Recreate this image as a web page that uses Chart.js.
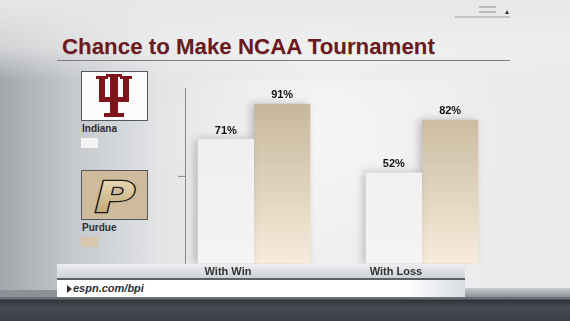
<!DOCTYPE html>
<html>
<head>
<meta charset="utf-8">
<script src="https://cdn.jsdelivr.net/npm/chart.js@4.4.0/dist/chart.umd.min.js"></script>
<style>
  html, body { margin: 0; padding: 0; }
  body { width: 570px; height: 321px; overflow: hidden; position: relative;
         font-family: "Liberation Sans", Arial, sans-serif;
         background: linear-gradient(to right, #a3a7ad 0%, #c3c6ca 12%, #e2e4e6 28%, #eeeff0 55%, #e9eaeb 100%); }
  .abs { position: absolute; }
  #topfade { left: 0; top: 0; width: 570px; height: 80px;
             background: linear-gradient(to bottom, #e6e7e8 0%, rgba(240,240,240,0.6) 60%, rgba(240,240,240,0) 100%); }
  #panel { left: 150px; top: 80px; width: 360px; height: 185px;
           background: radial-gradient(ellipse at 50% 30%, rgba(250,250,250,0.6) 0%, rgba(250,250,250,0) 70%); }
  #title { left: 62px; top: 34px; font-size: 22.3px; font-weight: bold; color: #6b1a20;
           text-shadow: 0 1px 0 rgba(0,0,0,0.15); white-space: nowrap; }
  #rule { left: 57px; top: 60px; width: 453px; height: 1px; background: #7a7c80; }
  .lbl { font-size: 10px; font-weight: bold; color: #2e2e2e; }
  .sw { width: 17px; height: 10px; }
  #strip { left: 57px; top: 264px; width: 408px; height: 14px;
           background: linear-gradient(to bottom, #eceef0, #cfd2d6); }
  #stripline { left: 57px; top: 278px; width: 408px; height: 2px; background: #5d6168; }
  #url { left: 57px; top: 280px; width: 408px; height: 17px;
         background: linear-gradient(to right, #ffffff 0%, #ffffff 85%, #d9dde3 100%); }
  #urltext { left: 73px; top: 282px; font-size: 11px; font-weight: bold; font-style: italic; color: #2b2f3a; }
  #tri { left: 67px; top: 285px; width: 0; height: 0; border-top: 4px solid transparent;
         border-bottom: 4px solid transparent; border-left: 5px solid #2b2f3a; }
  #leftband { left: 0; top: 290px; width: 57px; height: 8px; background: #8d9197; }
  #bottom { left: 0; top: 297px; width: 570px; height: 24px;
            background: linear-gradient(to bottom, #6c7076 0px, #6c7076 2px, #2f333a 3px, #454a51 10px, #3a3e45 24px); }
  #rightband { left: 465px; top: 288px; width: 105px; height: 9px; background: linear-gradient(to bottom, #c8cbcf, #8e9298); }
  canvas { position: absolute; left: 0; top: 0; }
</style>
</head>
<body>
<div id="topfade" class="abs"></div>
<div id="panel" class="abs"></div>
<svg class="abs" style="left:0;top:0" width="570" height="30">
  <line x1="479" y1="7" x2="496" y2="7" stroke="#8a8c90" stroke-width="1"/>
  <line x1="479" y1="12" x2="496" y2="12" stroke="#8a8c90" stroke-width="1"/>
  <line x1="455" y1="17" x2="510" y2="17" stroke="#9a9ca0" stroke-width="1"/>
  <polygon points="505,14 509,14 507,10" fill="#333"/>
</svg>
<div id="title" class="abs">Chance to Make NCAA Tournament</div>
<div id="rule" class="abs"></div>

<svg class="abs" style="left:81px;top:71px" width="67" height="50">
  <rect x="0.5" y="0.5" width="66" height="49" fill="#fbfbfb" stroke="#55585c"/>
  <g fill="#7e151b">
    <rect x="29" y="3" width="8" height="41"/>
    <rect x="25" y="3" width="16" height="3"/>
    <rect x="18" y="6" width="6" height="23"/>
    <rect x="42" y="6" width="6" height="23"/>
    <rect x="15" y="5" width="12" height="3"/>
    <rect x="39" y="5" width="12" height="3"/>
    <rect x="18" y="26" width="30" height="5"/>
    <rect x="23" y="42" width="20" height="4"/>
  </g>
</svg>
<div class="abs lbl" style="left:82px;top:123px">Indiana</div>
<div class="abs sw" style="left:81px;top:138px;background:#f3f3f3;"></div>

<svg class="abs" style="left:81px;top:170px" width="67" height="50">
  <defs>
    <linearGradient id="pg" x1="0" y1="0" x2="0" y2="1">
      <stop offset="0" stop-color="#ede1c0"/>
      <stop offset="1" stop-color="#b99e66"/>
    </linearGradient>
  </defs>
  <rect x="0.5" y="0.5" width="66" height="49" fill="#cdbb9b" stroke="#55585c"/>
  <text x="34" y="42" text-anchor="middle" font-family="DejaVu Sans" font-weight="bold" font-style="italic"
        font-size="42" fill="url(#pg)" stroke="#1c1a16" stroke-width="2.4" paint-order="stroke"
        transform="translate(34,0) scale(1.3,1) translate(-34,0)">P</text>
</svg>
<div class="abs lbl" style="left:82px;top:222px">Purdue</div>
<div class="abs sw" style="left:81px;top:237px;background:#d6c6ab;"></div>

<div id="strip" class="abs"></div>
<div id="stripline" class="abs"></div>
<div id="leftband" class="abs"></div>
<div id="rightband" class="abs"></div>
<div id="url" class="abs"></div>
<div id="tri" class="abs"></div>
<div id="urltext" class="abs">espn.com/bpi</div>
<div id="bottom" class="abs"></div>

<canvas id="chart" width="570" height="321"></canvas>
<script>
var categories = ["With Win", "With Loss"];
var indiana = [71, 52];
var purdue = [91, 82];
var yTicks = [0, 50, 100];

// vertical axis line, soft bar shadows, value labels on top of the bars
var decorPlugin = {
    id: "decor",
    beforeDatasetsDraw: function (chart) {
        var ctx = chart.ctx;
        var area = chart.chartArea;
        var y = chart.scales.y;
        var ax = area.left + 15;
        ctx.save();
        ctx.strokeStyle = "#85888d";
        ctx.lineWidth = 1;
        ctx.beginPath();
        ctx.moveTo(ax + 0.5, y.getPixelForValue(yTicks[2]));
        ctx.lineTo(ax + 0.5, y.getPixelForValue(yTicks[0]));
        ctx.moveTo(ax - 7, y.getPixelForValue(yTicks[1]) + 0.5);
        ctx.lineTo(ax, y.getPixelForValue(yTicks[1]) + 0.5);
        ctx.stroke();
        ctx.restore();
    },
    beforeDatasetDraw: function (chart) {
        var ctx = chart.ctx;
        ctx.save();
        ctx.shadowColor = "rgba(0,0,0,0.22)";
        ctx.shadowBlur = 8;
        ctx.shadowOffsetX = -3;
    },
    afterDatasetDraw: function (chart) {
        chart.ctx.restore();
    },
    afterDatasetsDraw: function (chart) {
        var ctx = chart.ctx;
        ctx.save();
        ctx.font = "bold 11px 'Liberation Sans', Arial, sans-serif";
        ctx.fillStyle = "#111";
        ctx.textAlign = "center";
        ctx.textBaseline = "bottom";
        chart.data.datasets.forEach(function (ds, di) {
            chart.getDatasetMeta(di).data.forEach(function (bar, i) {
                ctx.fillText(ds.data[i] + "%", bar.x, bar.y - 3);
            });
        });
        ctx.restore();
    }
};

function barFill(dark, light) {
    return function (c) {
        var area = c.chart.chartArea;
        if (!area) return light;
        var g = c.chart.ctx.createLinearGradient(0, area.top, 0, area.bottom);
        g.addColorStop(0, dark);
        g.addColorStop(1, light);
        return g;
    };
}

new Chart(document.getElementById("chart"), {
    type: "bar",
    data: {
        labels: categories,
        datasets: [
            { label: "Indiana", data: indiana, backgroundColor: barFill("#ededed", "#f4f4f4"),
              borderWidth: 0, categoryPercentage: 0.67, barPercentage: 1.0 },
            { label: "Purdue", data: purdue, backgroundColor: barFill("#c2b195", "#f7ecdb"),
              borderWidth: 0, categoryPercentage: 0.67, barPercentage: 1.0 }
        ]
    },
    options: {
        responsive: false,
        animation: false,
        layout: { padding: { left: 170, right: 64, top: 88, bottom: 40 } },
        plugins: { legend: { display: false }, tooltip: { enabled: false } },
        scales: {
            y: { display: false, min: 0, max: 100 },
            x: {
                grid: { display: false, drawTicks: false },
                border: { display: false },
                ticks: { color: "#333", padding: 2, labelOffset: -26,
                         font: { family: "'Liberation Sans', Arial, sans-serif", size: 11, weight: "bold" } }
            }
        }
    },
    plugins: [decorPlugin]
});
</script>
</body>
</html>
